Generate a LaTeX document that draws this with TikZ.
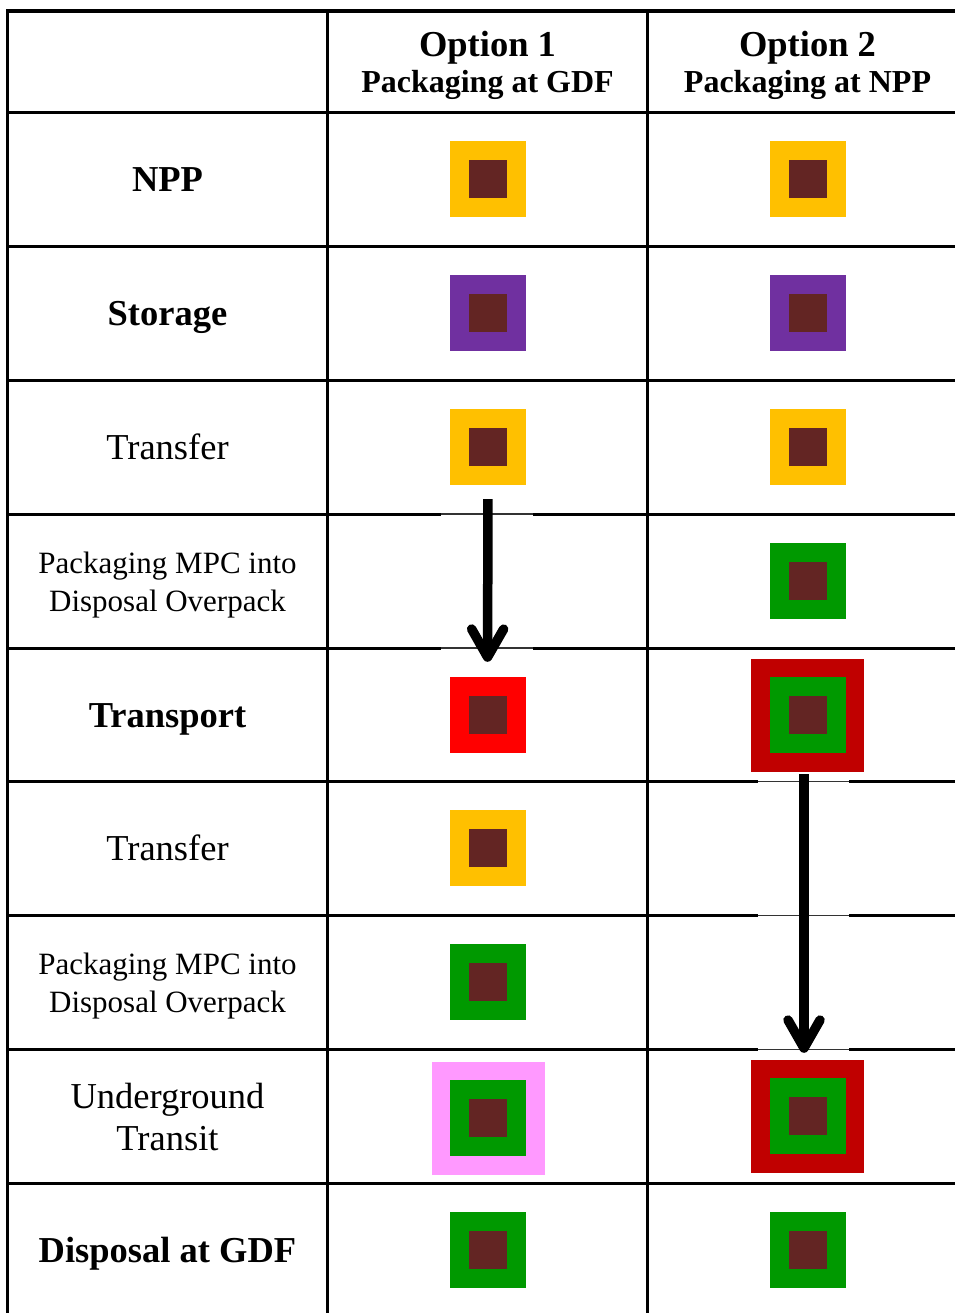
\documentclass[tikz,border=0pt]{standalone}
\usepackage{fontspec}
\setmainfont{Liberation Serif}
\usetikzlibrary{arrows.meta}
\definecolor{gold}{HTML}{FFC000}
\definecolor{plum}{HTML}{7030A0}
\definecolor{brn}{HTML}{632523}
\definecolor{grn}{HTML}{009900}
\definecolor{hot}{HTML}{FF0000}
\definecolor{dred}{HTML}{C00000}
\definecolor{pnk}{HTML}{FF99FF}
\begin{document}
\begin{tikzpicture}[x=1pt,y=-1pt,
		grid/.style={line width=3.2pt},
		gap/.style={line width=1.6pt,black!80},
		box/.style={rectangle,inner sep=0pt,minimum size=76pt,fill=#1},
		big/.style={rectangle,inner sep=0pt,minimum size=113pt,fill=#1},
		core/.style={rectangle,inner sep=0pt,minimum size=38pt,fill=brn},
		lab/.style={anchor=base,align=center,font=\fontsize{36.5}{42}\selectfont},
		labs/.style={anchor=base,align=center,font=\fontsize{31}{38}\selectfont},
		flow/.style={line width=9.5pt,-{Straight Barb[length=28pt,width=32pt,line cap=round,line join=round]}}]
	\useasboundingbox (0,0) rectangle (955,1313);
	% table
	\foreach \x in {7.5,327.5,647.5} \draw[grid] (\x,9.5)--(\x,1313);
	\foreach \y in {11,112.5,246.4,380.3,514.2,648.1,781.6,915.5,1049.4,1183.3} \draw[grid] (6,\y)--(955,\y);
	\foreach \y in {514.2,648.1} {\draw[white,line width=3.6pt] (441,\y)--(533,\y); \draw[gap] (441,\y)--(533,\y);}
	\foreach \y in {781.6,915.5,1049.4} {\draw[white,line width=3.6pt] (758,\y)--(849,\y); \draw[gap] (758,\y)--(849,\y);}
	% headings
	\node[anchor=base,font=\fontsize{36.5}{42}\selectfont\bfseries] (h1) at (487.5,56.5) {Option 1};
	\node[anchor=base,font=\fontsize{32}{36}\selectfont\bfseries] (g1) at (487.5,93) {Packaging at GDF};
	\node[anchor=base,font=\fontsize{36.5}{42}\selectfont\bfseries] (h2) at (807.5,56.5) {Option 2};
	\node[anchor=base,font=\fontsize{32}{36}\selectfont\bfseries] (g2) at (807.5,93) {Packaging at NPP};
	% stages
	\node[lab] (s1) at (167.5,191.5) {\textbf{NPP}};
	\node[lab] (s2) at (167.5,325.5) {\textbf{Storage}};
	\node[lab] (s3) at (167.5,459.5) {Transfer};
	\node[labs] (s4) at (167.5,611) {Packaging MPC into\\Disposal Overpack};
	\node[lab] (s5) at (167.5,727.5) {\textbf{Transport}};
	\node[lab] (s6) at (167.5,860.5) {Transfer};
	\node[labs] (s7) at (167.5,1012) {Packaging MPC into\\Disposal Overpack};
	\node[lab] (s8) at (167.5,1150) {Underground\\Transit};
	\node[lab] (s9) at (167.5,1262) {\textbf{Disposal at GDF}};
	% containers
	\foreach \c/\x/\y/\n in {gold/488/179/a1,plum/488/313/a2,gold/488/447/a3,hot/487.5/715/a5,gold/488/848/a6,grn/488/982/a7,grn/488/1250/a9,
		gold/808/179/b1,plum/808/313/b2,gold/808/447/b3,grn/808/581/b4,grn/808/1250/b9}
		{\node[box=\c] (\n) at (\x,\y) {}; \node[core] at (\n) {};}
	\foreach \c/\x/\y/\n in {pnk/488/1118/a8,dred/807.5/715/b5,dred/807.5/1116/b8}
		{\node[big=\c] (\n) at (\x,\y) {}; \node[box=grn] at (\n) {}; \node[core] at (\n) {};}
	% flows
	\draw[flow,shorten <=14pt,shorten >=15pt] (a3.south)--(a5.north);
	\draw[flow,shorten <=2.5pt,shorten >=6.5pt] ([xshift=-3.5pt]b5.south)--([xshift=-3.5pt]b8.north);
\end{tikzpicture}
\end{document}
